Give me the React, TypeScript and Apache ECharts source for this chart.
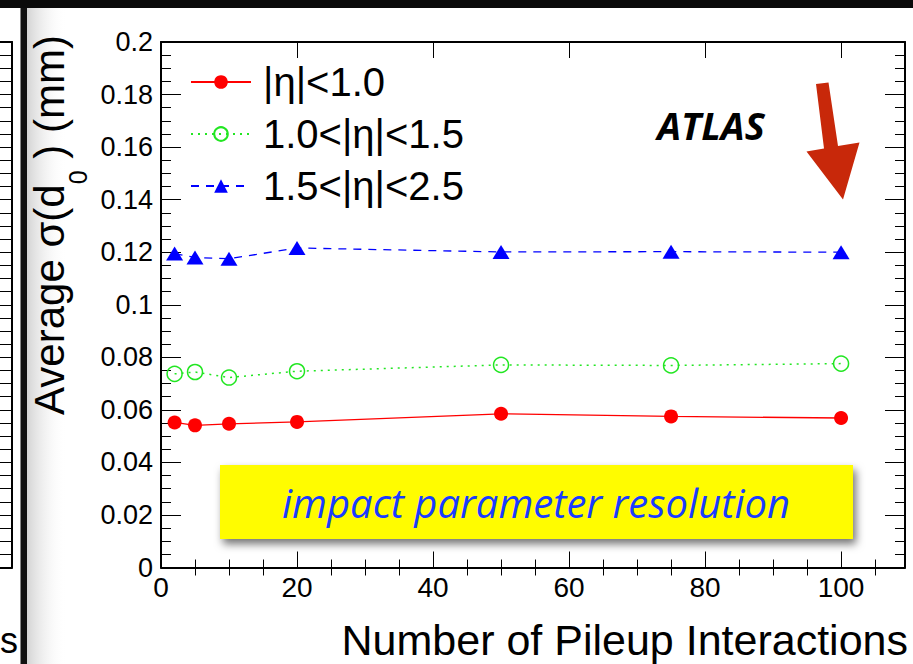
import React, { useEffect, useRef } from "react";
import * as echarts from "echarts";

const pileup = [2, 5, 10, 20, 50, 75, 100];
const sigmaCentral = [0.0552, 0.0541, 0.0547, 0.0554, 0.0585, 0.0575, 0.0569];
const sigmaMiddle = [0.0737, 0.0744, 0.0723, 0.0747, 0.0771, 0.0769, 0.0776];
const sigmaForward = [0.1195, 0.1180, 0.1175, 0.1216, 0.1201, 0.1202, 0.1200];

const seriesNames = ["|η|<1.0", "1.0<|η|<1.5", "1.5<|η|<2.5"];

const X_MIN = 0;
const X_MAX = 109.4;
const X_MAJOR = [0, 20, 40, 60, 80, 100];
const X_MINOR = [5, 10, 15, 25, 30, 35, 45, 50, 55, 65, 70, 75, 85, 90, 95, 105];
const Y_MIN = 0;
const Y_MAX = 0.2;
const Y_STEP = 0.02;

const FONT = "'Liberation Sans', Arial, Helvetica, sans-serif";

export default function App() {
  const ref = useRef<HTMLDivElement>(null);

  useEffect(() => {
    if (!ref.current) return;
    const chart = echarts.init(ref.current, undefined, { renderer: "svg" });
    const toPairs = (ys: number[]) => pileup.map((x, i) => [x, ys[i]]);

    const axisLine = { show: true, onZero: false, lineStyle: { color: "#000", width: 2 } };

    const option: any = {
      animation: false,
      backgroundColor: "#fff",
      grid: [
        { left: 161, top: 42, width: 744, height: 525.5, containLabel: false },
        { left: 0, top: 42, width: 12, height: 525.5, containLabel: false },
      ],
      xAxis: [
        {
          type: "value", gridIndex: 0, position: "bottom", min: X_MIN, max: X_MAX,
          axisLine,
          axisTick: { show: true, inside: true, length: 16, customValues: X_MAJOR, lineStyle: { color: "#000", width: 1 } },
          axisLabel: { show: true, customValues: X_MAJOR, fontSize: 28, fontFamily: FONT, color: "#000", margin: 6 },
          splitLine: { show: false },
        },
        {
          type: "value", gridIndex: 0, position: "bottom", min: X_MIN, max: X_MAX,
          axisLine: { show: false },
          axisTick: { show: true, inside: true, length: 8, customValues: X_MINOR, lineStyle: { color: "#000", width: 1 } },
          axisLabel: { show: false },
          splitLine: { show: false },
        },
        {
          type: "value", gridIndex: 0, position: "top", min: X_MIN, max: X_MAX,
          axisLine,
          axisTick: { show: true, inside: true, length: 16, customValues: X_MAJOR, lineStyle: { color: "#000", width: 1 } },
          axisLabel: { show: false },
          splitLine: { show: false },
        },
        {
          type: "value", gridIndex: 0, position: "top", min: X_MIN, max: X_MAX,
          axisLine: { show: false },
          axisTick: { show: true, inside: true, length: 8, customValues: X_MINOR, lineStyle: { color: "#000", width: 1 } },
          axisLabel: { show: false },
          splitLine: { show: false },
        },
        {
          type: "value", gridIndex: 1, position: "bottom", min: 0, max: 1,
          axisLine, axisTick: { show: false }, axisLabel: { show: false }, splitLine: { show: false },
        },
        {
          type: "value", gridIndex: 1, position: "top", min: 0, max: 1,
          axisLine, axisTick: { show: false }, axisLabel: { show: false }, splitLine: { show: false },
        },
      ],
      yAxis: [
        {
          type: "value", gridIndex: 0, position: "left", min: Y_MIN, max: Y_MAX, interval: Y_STEP,
          axisLine,
          axisTick: { show: true, inside: true, length: 20, lineStyle: { color: "#000", width: 1 } },
          minorTick: { show: true, splitNumber: 4, length: 10, lineStyle: { color: "#000", width: 1 } },
          axisLabel: {
            show: true, fontSize: 27, fontFamily: FONT, color: "#000", margin: 8,
            formatter: (v: number) => String(+v.toFixed(3)),
          },
          splitLine: { show: false },
          minorSplitLine: { show: false },
        },
        {
          type: "value", gridIndex: 0, position: "right", min: Y_MIN, max: Y_MAX, interval: Y_STEP,
          axisLine,
          axisTick: { show: true, inside: true, length: 20, lineStyle: { color: "#000", width: 1 } },
          minorTick: { show: true, splitNumber: 4, length: 10, lineStyle: { color: "#000", width: 1 } },
          axisLabel: { show: false },
          splitLine: { show: false },
        },
        {
          type: "value", gridIndex: 1, position: "right", min: Y_MIN, max: Y_MAX, interval: 0.005,
          axisLine,
          axisTick: { show: true, inside: true, length: 14, lineStyle: { color: "#000", width: 1 } },
          axisLabel: { show: false },
          splitLine: { show: false },
        },
      ],
      legend: {
        orient: "vertical",
        left: 190,
        top: 62,
        padding: 0,
        itemGap: 12,
        itemWidth: 60,
        itemHeight: 17,
        data: seriesNames,
        textStyle: { fontSize: 40, fontFamily: FONT, color: "#000", lineHeight: 40, padding: [0, 0, 0, 7] },
      },
      series: [
        {
          name: seriesNames[0], type: "line", xAxisIndex: 0, yAxisIndex: 0,
          data: toPairs(sigmaCentral),
          symbol: "circle", symbolSize: 14,
          lineStyle: { color: "#ff0000", width: 1.3, type: "solid" },
          itemStyle: { color: "#ff0000" },
        },
        {
          name: seriesNames[1], type: "line", xAxisIndex: 0, yAxisIndex: 0,
          data: toPairs(sigmaMiddle),
          symbol: "circle", symbolSize: 15,
          lineStyle: { color: "#22e622", width: 1.5, type: [2, 5] },
          itemStyle: { color: "rgba(255,255,255,0)", borderColor: "#22e622", borderWidth: 1.5 },
        },
        {
          name: seriesNames[2], type: "line", xAxisIndex: 0, yAxisIndex: 0,
          data: toPairs(sigmaForward),
          symbol: "triangle", symbolSize: [17, 14],
          lineStyle: { color: "#0000ff", width: 1.3, type: [8, 7] },
          itemStyle: { color: "#0000ff" },
        },
      ],
      graphic: [
        { type: "rect", z: 100, shape: { x: 0, y: 0, width: 913, height: 8 }, style: { fill: "#0a0a0a" } },
        {
          type: "rect", z: -1, shape: { x: 27, y: 8, width: 40, height: 656 },
          style: {
            fill: new echarts.graphic.LinearGradient(0, 0, 1, 0, [
              { offset: 0, color: "#d4d4d4" },
              { offset: 1, color: "rgba(255,255,255,0)" },
            ]),
          },
        },
        { type: "rect", z: 100, shape: { x: 20.5, y: 8, width: 6.5, height: 656 }, style: { fill: "#111" } },
        {
          type: "text", x: 0, y: 640,
          style: { text: "s", fontSize: 36, fontFamily: FONT, fill: "#000", align: "left", verticalAlign: "middle" },
        },
        {
          type: "text", x: 49, y: 225, rotation: Math.PI / 2,
          style: {
            text: "{a|Average σ(d}{s|0}{a| ) (mm)}",
            align: "center", verticalAlign: "middle",
            rich: {
              a: { fontSize: 42, fontFamily: FONT, fill: "#000", lineHeight: 83 },
              s: { fontSize: 25, fontFamily: FONT, fill: "#000", verticalAlign: "bottom" },
            },
          },
        },
        {
          type: "text", x: 908, y: 640,
          style: { text: "Number of Pileup Interactions", fontSize: 43, fontFamily: FONT, fill: "#000", align: "right", verticalAlign: "middle" },
        },
        {
          type: "text", x: 711, y: 125,
          style: { text: "ATLAS", fontSize: 38, fontFamily: "'Open Sans', sans-serif", fontWeight: "bold", fontStyle: "italic", fill: "#000", align: "center", verticalAlign: "middle" },
        },
        {
          type: "polygon",
          shape: { points: [[816, 84], [828.5, 82.5], [838, 146], [859.5, 142.5], [843, 199.5], [806.5, 151.5], [824, 148.5]] },
          style: { fill: "#c8280a" },
        },
        {
          type: "rect", shape: { x: 220, y: 465, width: 633, height: 74 },
          style: { fill: "#fffc00", shadowBlur: 8, shadowOffsetX: 3, shadowOffsetY: 5, shadowColor: "rgba(0,0,0,0.55)" },
        },
        {
          type: "text", x: 536, y: 502,
          style: { text: "impact parameter resolution", fontSize: 40, fontFamily: "'Open Sans', sans-serif", fontStyle: "italic", fill: "#1a3cff", align: "center", verticalAlign: "middle" },
        },
      ],
    };

    chart.setOption(option);
    return () => chart.dispose();
  }, []);

  return <div ref={ref} style={{ position: "fixed", left: 0, top: 0, width: 913, height: 664 }} />;
}
